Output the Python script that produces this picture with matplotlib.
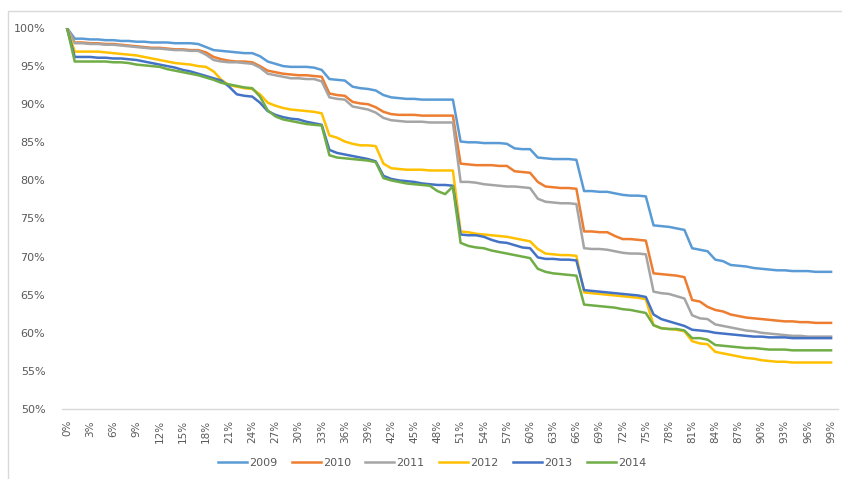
import matplotlib
matplotlib.use("Agg")
import matplotlib.pyplot as plt
from matplotlib.patches import Rectangle

# share of records (0%..99%) and the survival-style curve per year
pct = list(range(100))

y2009 = [100, 98.6, 98.6, 98.5, 98.5, 98.4, 98.4, 98.3, 98.3, 98.2,
         98.2, 98.1, 98.1, 98.1, 98.0, 98.0, 98.0, 97.9, 97.5, 97.1,
         97.0, 96.9, 96.8, 96.7, 96.7, 96.3, 95.6, 95.3, 95.0, 94.9,
         94.9, 94.9, 94.8, 94.5, 93.3, 93.2, 93.1, 92.3, 92.1, 92.0,
         91.8, 91.2, 90.9, 90.8, 90.7, 90.7, 90.6, 90.6, 90.6, 90.6,
         90.6, 85.1, 85.0, 85.0, 84.9, 84.9, 84.9, 84.8, 84.2, 84.1,
         84.1, 83.0, 82.9, 82.8, 82.8, 82.8, 82.7, 78.6, 78.6, 78.5,
         78.5, 78.3, 78.1, 78.0, 78.0, 77.9, 74.1, 74.0, 73.9, 73.7,
         73.5, 71.1, 70.9, 70.7, 69.6, 69.4, 68.9, 68.8, 68.7, 68.5,
         68.4, 68.3, 68.2, 68.2, 68.1, 68.1, 68.1, 68.0, 68.0, 68.0]

y2010 = [100, 98.1, 98.1, 98.0, 98.0, 97.9, 97.9, 97.8, 97.7, 97.6,
         97.5, 97.4, 97.4, 97.3, 97.2, 97.2, 97.1, 97.1, 96.8, 96.2,
         95.9, 95.7, 95.6, 95.6, 95.5, 95.0, 94.4, 94.2, 94.0, 93.9,
         93.8, 93.8, 93.7, 93.6, 91.4, 91.2, 91.1, 90.3, 90.1, 90.0,
         89.6, 89.0, 88.7, 88.6, 88.6, 88.6, 88.5, 88.5, 88.5, 88.5,
         88.5, 82.2, 82.1, 82.0, 82.0, 82.0, 81.9, 81.9, 81.2, 81.1,
         81.0, 79.8, 79.2, 79.1, 79.0, 79.0, 78.9, 73.3, 73.3, 73.2,
         73.2, 72.7, 72.3, 72.3, 72.2, 72.1, 67.8, 67.7, 67.6, 67.5,
         67.3, 64.3, 64.1, 63.4, 63.0, 62.8, 62.4, 62.2, 62.0, 61.9,
         61.8, 61.7, 61.6, 61.5, 61.5, 61.4, 61.4, 61.3, 61.3, 61.3]

y2011 = [100, 98.0, 98.0, 97.9, 97.9, 97.8, 97.8, 97.7, 97.6, 97.5,
         97.4, 97.3, 97.3, 97.2, 97.1, 97.1, 97.0, 97.0, 96.5, 95.8,
         95.6, 95.5, 95.5, 95.4, 95.3, 94.8, 94.0, 93.8, 93.6, 93.4,
         93.4, 93.3, 93.3, 93.0, 90.9, 90.7, 90.6, 89.7, 89.5, 89.3,
         88.9, 88.2, 87.9, 87.8, 87.7, 87.7, 87.7, 87.6, 87.6, 87.6,
         87.6, 79.8, 79.8, 79.7, 79.5, 79.4, 79.3, 79.2, 79.2, 79.1,
         79.0, 77.6, 77.2, 77.1, 77.0, 77.0, 76.9, 71.1, 71.0, 71.0,
         70.9, 70.7, 70.5, 70.4, 70.4, 70.3, 65.4, 65.2, 65.1, 64.8,
         64.5, 62.3, 61.9, 61.8, 61.1, 60.9, 60.7, 60.5, 60.3, 60.2,
         60.0, 59.9, 59.8, 59.7, 59.6, 59.6, 59.5, 59.5, 59.5, 59.5]

y2012 = [100, 96.9, 96.9, 96.9, 96.9, 96.8, 96.7, 96.6, 96.5, 96.4,
         96.2, 96.0, 95.8, 95.6, 95.4, 95.3, 95.2, 95.0, 94.9, 94.3,
         93.2, 92.5, 92.3, 92.1, 92.0, 91.3, 90.2, 89.8, 89.5, 89.3,
         89.2, 89.1, 89.0, 88.8, 85.9, 85.6, 85.1, 84.8, 84.6, 84.6,
         84.5, 82.2, 81.6, 81.5, 81.4, 81.4, 81.4, 81.3, 81.3, 81.3,
         81.3, 73.3, 73.2, 73.0, 72.9, 72.8, 72.7, 72.6, 72.4, 72.2,
         72.0, 71.0, 70.4, 70.3, 70.2, 70.2, 70.1, 65.3, 65.2, 65.1,
         65.0, 64.9, 64.8, 64.7, 64.6, 64.4, 61.0, 60.6, 60.5, 60.4,
         60.2, 58.9, 58.6, 58.5, 57.5, 57.3, 57.1, 56.9, 56.7, 56.6,
         56.4, 56.3, 56.2, 56.2, 56.1, 56.1, 56.1, 56.1, 56.1, 56.1]

y2013 = [100, 96.2, 96.2, 96.2, 96.1, 96.1, 96.0, 96.0, 95.9, 95.8,
         95.6, 95.4, 95.2, 95.0, 94.8, 94.5, 94.3, 94.0, 93.7, 93.4,
         93.1, 92.3, 91.3, 91.1, 91.0, 90.2, 89.1, 88.6, 88.3, 88.1,
         88.0, 87.7, 87.5, 87.3, 84.0, 83.6, 83.4, 83.2, 83.0, 82.8,
         82.5, 80.6, 80.2, 80.0, 79.9, 79.8, 79.6, 79.5, 79.4, 79.4,
         79.3, 72.9, 72.8, 72.8, 72.6, 72.2, 71.9, 71.8, 71.5, 71.2,
         71.1, 69.9, 69.7, 69.7, 69.6, 69.6, 69.5, 65.6, 65.5, 65.4,
         65.3, 65.2, 65.1, 65.0, 64.9, 64.7, 62.4, 61.8, 61.5, 61.2,
         60.9, 60.4, 60.3, 60.2, 60.0, 59.9, 59.8, 59.7, 59.6, 59.5,
         59.5, 59.4, 59.4, 59.4, 59.3, 59.3, 59.3, 59.3, 59.3, 59.3]

y2014 = [100, 95.6, 95.6, 95.6, 95.6, 95.6, 95.5, 95.5, 95.4, 95.2,
         95.1, 95.0, 94.9, 94.6, 94.4, 94.2, 94.0, 93.8, 93.5, 93.2,
         92.8, 92.6, 92.4, 92.2, 92.1, 91.0, 89.2, 88.4, 88.0, 87.8,
         87.6, 87.4, 87.3, 87.2, 83.3, 83.0, 82.9, 82.8, 82.7, 82.6,
         82.4, 80.3, 80.0, 79.8, 79.6, 79.5, 79.4, 79.3, 78.6, 78.2,
         79.2, 71.8, 71.4, 71.2, 71.1, 70.8, 70.6, 70.4, 70.2, 70.0,
         69.8, 68.4, 68.0, 67.8, 67.7, 67.6, 67.5, 63.7, 63.6, 63.5,
         63.4, 63.3, 63.1, 63.0, 62.8, 62.6, 61.0, 60.6, 60.5, 60.5,
         60.3, 59.3, 59.3, 59.1, 58.4, 58.3, 58.2, 58.1, 58.0, 58.0,
         57.9, 57.8, 57.8, 57.8, 57.7, 57.7, 57.7, 57.7, 57.7, 57.7]

years = ["2009", "2010", "2011", "2012", "2013", "2014"]
series = [y2009, y2010, y2011, y2012, y2013, y2014]
colors = ["#5B9BD5", "#ED7D31", "#A5A5A5", "#FFC000", "#4472C4", "#70AD47"]

xtick_pos = list(range(0, 100, 3))
xtick_labels = [f"{p}%" for p in xtick_pos]
ytick_pos = list(range(50, 101, 5))
ytick_labels = [f"{v}%" for v in ytick_pos]

fig = plt.figure(figsize=(8.42, 4.79), dpi=100)
fig.patch.set_facecolor("white")

# chart border
fig.patches.append(Rectangle((8 / 842, -0.05), 1.0, 1.05 - 11 / 479,
                             transform=fig.transFigure, fill=False,
                             edgecolor="#d9d9d9", linewidth=1.0))

ax = fig.add_axes([62 / 842, 1 - 409 / 479, 776 / 842, 381 / 479])

for name, vals, col in zip(years, series, colors):
    ax.plot(pct, vals, color=col, linewidth=1.8, label=name)

ax.set_xlim(-0.65, 99.9)
ax.set_ylim(50, 100)

ax.set_xticks(xtick_pos)
ax.set_xticklabels(xtick_labels, rotation=90, fontsize=7.5, color="#595959")
ax.set_yticks(ytick_pos)
ax.set_yticklabels(ytick_labels, fontsize=8, color="#595959")
ax.tick_params(axis="both", length=0)
ax.tick_params(axis="x", pad=8)
ax.tick_params(axis="y", pad=12)

for side in ["top", "right", "left"]:
    ax.spines[side].set_visible(False)
ax.spines["bottom"].set_color("#d9d9d9")
ax.spines["bottom"].set_linewidth(1.0)

fig.legend(loc="center", bbox_to_anchor=(432 / 842, 1 - 463 / 479),
           ncol=6, frameon=False, fontsize=8, handlelength=2.6,
           handletextpad=0.2, columnspacing=1.3, labelcolor="#595959")

plt.savefig("out.png", dpi=100)
